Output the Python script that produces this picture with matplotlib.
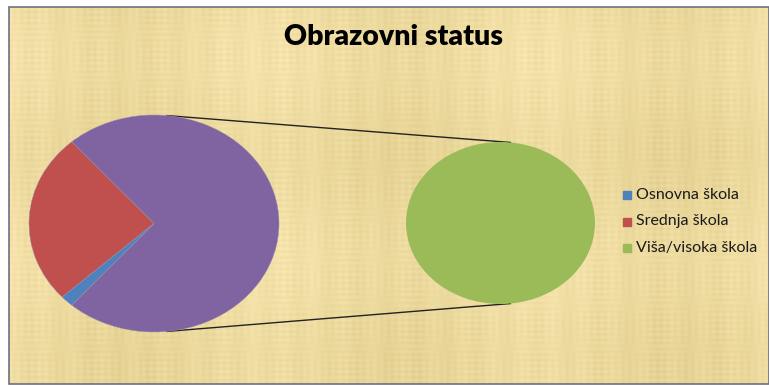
import numpy as np
import matplotlib.pyplot as plt
from matplotlib.patches import Rectangle

# education level counts
categories = ["Osnovna škola", "Srednja škola", "Viša/visoka škola"]
counts = [1, 15, 43]
colors = ["#4F81BD", "#C0504D", "#9BBB59"]
other_color = "#8064A2"
title = "Obrazovni status"

W, H = 769, 385
fig = plt.figure(figsize=(W / 100, H / 100), dpi=100)
fig.patch.set_facecolor("white")

# full-figure overlay in pixel coordinates
bg = fig.add_axes([0, 0, 1, 1])
bg.set_xlim(0, W)
bg.set_ylim(H, 0)
bg.axis("off")

# parchment-like woven background
x = np.arange(W - 10)
y = np.arange(H - 8)
xx, yy = np.meshgrid(x, y)
weave = (0.5 * np.sin(xx * 0.9) * np.sin(yy * 0.07 + 1.3)
         + 0.5 * np.sin(yy * 1.1) * np.sin(xx * 0.05 + 0.4)
         + 0.7 * np.sin(xx * 0.023 + 2.0) + 0.5 * np.sin(yy * 0.031)
         + 0.4 * np.sin(xx * 0.21 + 0.7))
base = np.array([238, 219, 160]) / 255.0
tex = base[None, None, :] + 0.022 * weave[..., None] * np.array([1.0, 1.0, 1.4])
tex = np.clip(tex, 0, 1)
bg.imshow(tex, extent=(9, W, H - 1, 7), aspect="auto", zorder=0, interpolation="bilinear")
bg.add_patch(Rectangle((9, 7), W - 9, H - 8, fill=False, edgecolor="#6E7080", lw=1.2, zorder=1))

bg.text(394, 37, title, ha="center", va="center", fontsize=20.5,
        fontweight="heavy", family="Lato", color="black")

# pie geometry (pixels): centre and radii
lcx, lcy, lrx, lry = 154, 223.5, 125, 108.5
rcx, rcy, rrx, rry = 500.5, 223, 94.5, 81


def pie_axes(cx, cy, rx, ry):
    ax = fig.add_axes([(cx - rx) / W, 1 - (cy + ry) / H, 2 * rx / W, 2 * ry / H])
    ax.set_facecolor("none")
    return ax


total = sum(counts)
other = counts[2]
left_vals = [other, counts[1], counts[0]]
left_cols = [other_color, colors[1], colors[0]]

axl = pie_axes(lcx, lcy, lrx, lry)
axl.pie(left_vals, colors=left_cols, startangle=-180 * other / total,
        counterclock=True, radius=1, wedgeprops=dict(linewidth=0.3, edgecolor="#9a8fb0"))
axl.set_aspect("auto")
axl.set_xlim(-1, 1)
axl.set_ylim(-1, 1)

axr = pie_axes(rcx, rcy, rrx, rry)
axr.pie([counts[2]], colors=[colors[2]], radius=1, wedgeprops=dict(linewidth=0))
axr.set_aspect("auto")
axr.set_xlim(-1, 1)
axr.set_ylim(-1, 1)

# connector lines between the two pies
t = np.deg2rad(84)
for s in (1, -1):
    bg.plot([lcx + lrx * np.cos(t), rcx + rrx * np.cos(t)],
            [lcy - s * lry * np.sin(t), rcy - s * rry * np.sin(t)],
            color="#222222", lw=1.0, zorder=2)

# legend
for i, (lab, col) in enumerate(zip(categories, colors)):
    yy_ = 195 + i * 26.5
    bg.add_patch(Rectangle((623, yy_ - 4), 8, 8, color=col, zorder=3))
    bg.text(636, yy_, lab, ha="left", va="center", fontsize=11.5,
            family="Lato", color="#1a1a1a", zorder=3)

fig.savefig("out.png", dpi=100)
